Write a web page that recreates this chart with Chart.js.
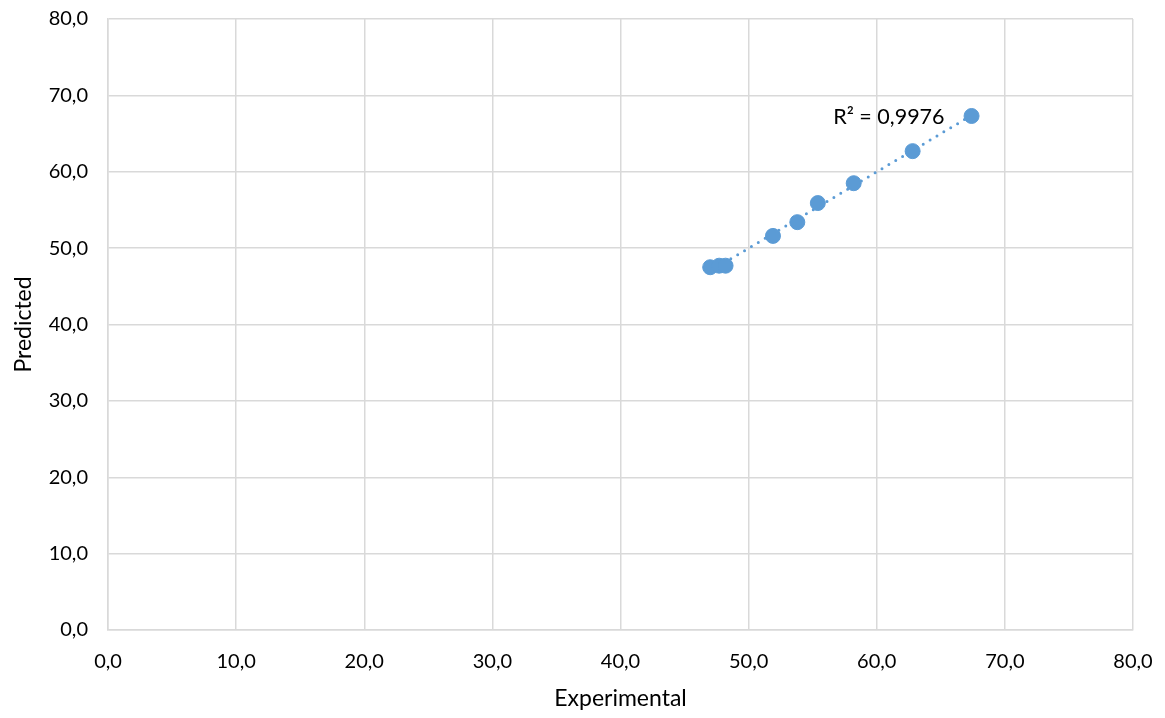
<!DOCTYPE html>
<html>
<head>
<meta charset="utf-8">
<script src="https://cdn.jsdelivr.net/npm/chart.js@4.4.1/dist/chart.umd.min.js"></script>
<style>
  html, body { margin: 0; padding: 0; background: #ffffff; }
  #wrap { width: 1165px; height: 718px; }
</style>
</head>
<body>
<div id="wrap"><canvas id="chart" width="1165" height="718"></canvas></div>
<script>
// Valores
const experimental = [47.0, 47.7, 48.2, 51.9, 53.8, 55.4, 58.2, 62.8, 67.4];
const predicted    = [47.5, 47.7, 47.7, 51.6, 53.4, 55.9, 58.5, 62.7, 67.3];
const r2Text = 'R² = 0,9976';
const r2Anchor = { x: 56.6, y: 67.2 };

const blue = '#5b9bd5';
const gridColor = '#d9d9d9';
const fontFamily = 'Lato, "Open Sans", sans-serif';

// Recta de tendencia (mínimos cuadrados)
const trend = (() => {
    const n = experimental.length;
    const mx = experimental.reduce((a, b) => a + b, 0) / n;
    const my = predicted.reduce((a, b) => a + b, 0) / n;
    let sxy = 0, sxx = 0;
    experimental.forEach((x, i) => {
        sxy += (x - mx) * (predicted[i] - my);
        sxx += (x - mx) * (x - mx);
    });
    const slope = sxy / sxx;
    const intercept = my - slope * mx;
    const x0 = Math.min(...experimental);
    const x1 = Math.max(...experimental);
    return [{ x: x0, y: slope * x0 + intercept }, { x: x1, y: slope * x1 + intercept }];
})();

const fmt = (v) => v.toFixed(1).replace('.', ',');

const r2Label = {
    id: 'r2Label',
    afterDatasetsDraw: (chart) => {
        const ctx = chart.ctx;
        const px = chart.scales.x.getPixelForValue(r2Anchor.x);
        const py = chart.scales.y.getPixelForValue(r2Anchor.y);
        ctx.save();
        ctx.font = '21.5px ' + fontFamily;
        ctx.fillStyle = '#000000';
        ctx.textAlign = 'left';
        ctx.textBaseline = 'middle';
        ctx.fillText(r2Text, px, py);
        ctx.restore();
    }
};

const config = {
    type: 'scatter',
    data: {
        datasets: [
            {
                type: 'line',
                data: trend,
                borderColor: blue,
                borderWidth: 3,
                borderDash: [0, 8],
                borderCapStyle: 'round',
                pointRadius: 0,
                fill: false,
                order: 2
            },
            {
                data: experimental.map((x, i) => ({ x: x, y: predicted[i] })),
                backgroundColor: blue,
                borderColor: blue,
                pointRadius: 7.5,
                pointHoverRadius: 7.5,
                order: 1
            }
        ]
    },
    options: {
        responsive: false,
        animation: false,
        layout: { padding: { top: 19, right: 32, bottom: 0, left: 10 } },
        plugins: {
            legend: { display: false },
            tooltip: { enabled: false }
        },
        scales: {
            x: {
                type: 'linear',
                min: 0,
                max: 80,
                ticks: {
                    stepSize: 10,
                    color: '#000000',
                    font: { family: fontFamily, size: 20 },
                    padding: 20,
                    maxRotation: 0,
                    callback: (v) => fmt(v)
                },
                grid: { color: gridColor, lineWidth: 1.5, drawTicks: false },
                border: { color: gridColor, width: 1.5 },
                title: {
                    display: true,
                    text: 'Experimental',
                    color: '#000000',
                    font: { family: fontFamily, size: 23 },
                    padding: { top: 0, bottom: 6 }
                },
                afterFit: (scale) => {
                    scale.height = 88;
                    scale.paddingLeft = 0;
                    scale.paddingRight = 0;
                }
            },
            y: {
                type: 'linear',
                min: 0,
                max: 80,
                ticks: {
                    stepSize: 10,
                    color: '#000000',
                    font: { family: fontFamily, size: 20 },
                    padding: 20,
                    callback: (v) => fmt(v)
                },
                grid: { color: gridColor, lineWidth: 1.5, drawTicks: false },
                border: { color: gridColor, width: 1.5 },
                title: {
                    display: true,
                    text: 'Predicted',
                    color: '#000000',
                    font: { family: fontFamily, size: 23 },
                    padding: { top: 0, bottom: 0 }
                },
                afterFit: (scale) => {
                    scale.width = 98;
                    scale.paddingTop = 0;
                    scale.paddingBottom = 0;
                }
            }
        }
    },
    plugins: [r2Label]
};

new Chart(document.getElementById('chart'), config);
</script>
</body>
</html>
